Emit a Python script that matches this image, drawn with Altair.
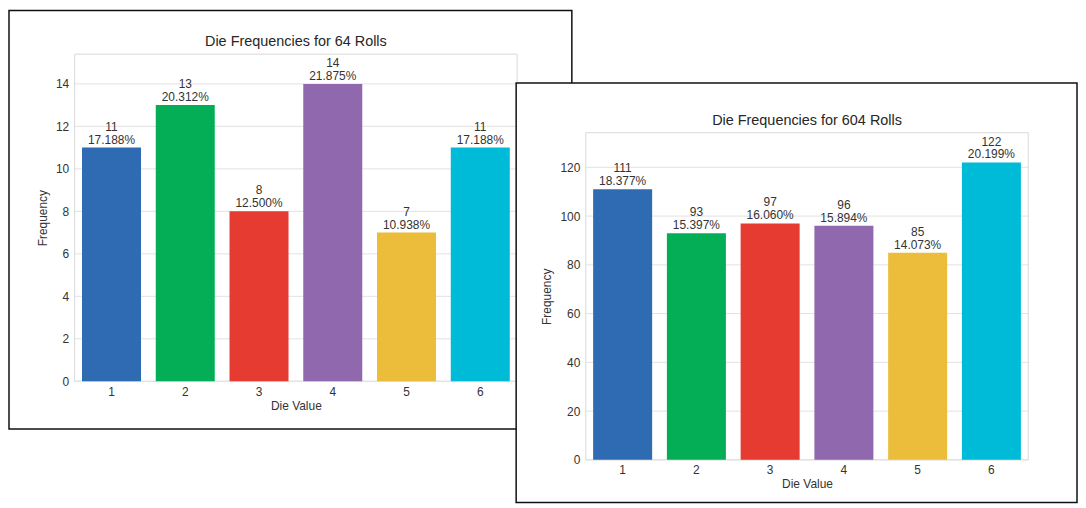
import altair as alt
import pandas as pd

# ---- data ----
die_values = ["1", "2", "3", "4", "5", "6"]
freq_64 = [11, 13, 8, 14, 7, 11]
freq_604 = [111, 93, 97, 96, 85, 122]
bar_colors = ["#2f6bb3", "#04ae56", "#e63b30", "#8f68ad", "#ecbc3b", "#00bbd8"]
ticks_64 = [0, 2, 4, 6, 8, 10, 12, 14]
ticks_604 = [0, 20, 40, 60, 80, 100, 120]
title_64 = "Die Frequencies for 64 Rolls"
title_604 = "Die Frequencies for 604 Rolls"

W, H = 445, 329
FONT = "Liberation Sans"
TEXT = "#333333"


def make_panel(freqs, ticks, title, frame, frame_fill):
    total = sum(freqs)
    ymax = max(freqs) * 1.1
    df = pd.DataFrame({
        "die": die_values,
        "freq": freqs,
        "label": [f"{v}\n{v / total * 100:.3f}%" for v in freqs],
    })
    tick_df = pd.DataFrame({"tick": ticks})
    one = pd.DataFrame({"k": [0]})

    yscale = alt.Scale(domain=[0, ymax], nice=False, zero=True)
    xscale = alt.Scale(domain=die_values, paddingInner=0.2, paddingOuter=0.1)
    fl, fr, ft, fb = frame

    def xaxis():
        return alt.Axis(title="Die Value", labelAngle=0, ticks=False,
                        domain=False, grid=False, labelFont=FONT,
                        labelFontSize=12, labelColor=TEXT, labelPadding=5,
                        titleFont=FONT, titleFontSize=12,
                        titleFontWeight="normal", titleColor=TEXT, titlePadding=3,
                        zindex=1)

    def yaxis():
        return alt.Axis(title="Frequency", values=ticks, ticks=False,
                        domain=False, grid=False, labelFont=FONT,
                        labelFontSize=12, labelColor=TEXT, labelPadding=6,
                        titleFont=FONT, titleFontSize=12,
                        titleFontWeight="normal", titleColor=TEXT, titlePadding=6,
                        zindex=1)

    layers = []
    layers.append(
        alt.Chart(one).mark_rect(fill=frame_fill, stroke="#111111", strokeWidth=1.5).encode(
            x=alt.value(fl), x2=alt.value(W + fr),
            y=alt.value(ft), y2=alt.value(H + fb))
    )
    layers.append(
        alt.Chart(one).mark_rect(fillOpacity=0, stroke="#d9d9d9", strokeWidth=1).encode(
            x=alt.value(0), x2=alt.value(W), y=alt.value(0), y2=alt.value(H))
    )
    layers.append(
        alt.Chart(tick_df).mark_rule(color="#e2e2e2", strokeWidth=1).encode(
            y=alt.Y("tick:Q", scale=yscale, axis=yaxis()))
    )
    layers.append(
        alt.Chart(df).mark_bar().encode(
            x=alt.X("die:N", scale=xscale, sort=die_values, axis=xaxis()),
            y=alt.Y("freq:Q", scale=yscale, axis=yaxis()),
            color=alt.Color("die:N", scale=alt.Scale(domain=die_values, range=bar_colors),
                            legend=None),
        )
    )
    layers.append(
        alt.Chart(df).mark_text(lineBreak="\n", baseline="bottom", dy=-14,
                                fontSize=12, lineHeight=13, font=FONT, color=TEXT).encode(
            x=alt.X("die:N", scale=xscale, sort=die_values, axis=xaxis()),
            y=alt.Y("freq:Q", scale=yscale, axis=yaxis()),
            text="label:N",
        )
    )
    layers.append(
        alt.Chart(one).mark_text(font=FONT, fontSize=14.5, color="#262626",
                                 baseline="alphabetic", align="center").encode(
            x=alt.value(W / 2), y=alt.value(-8), text=alt.value(title))
    )
    return alt.layer(*layers).properties(width=W, height=H)


left = make_panel(freq_64, ticks_64, title_64, frame=(-66, 55, -44, 48),
                  frame_fill="transparent")
right = make_panel(freq_604, ticks_604, title_604, frame=(-70, 49, -50, 43),
                   frame_fill="white")

spacer = alt.Chart(pd.DataFrame({"k": [0]})).mark_rect(opacity=0).encode(
    x=alt.value(0), x2=alt.value(1), y=alt.value(0), y2=alt.value(28)
).properties(width=1, height=28)

right_col = alt.vconcat(spacer, right, spacing=0)

chart = alt.hconcat(left, right_col, spacing=-58).properties(
    padding=0, background="white"
).configure_view(stroke=None)

chart.save("out.html", embed_options={"renderer": "svg", "actions": False})
